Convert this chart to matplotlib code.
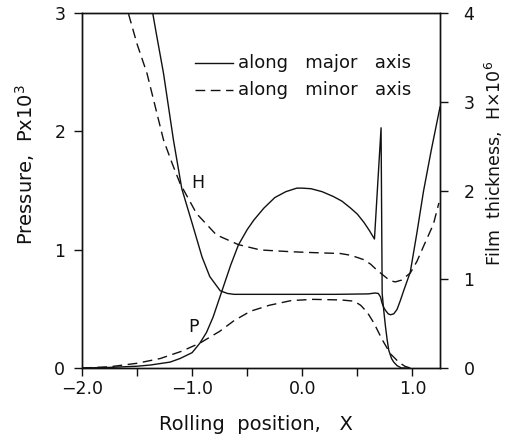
import matplotlib
matplotlib.use("Agg")
import matplotlib.pyplot as plt

# ---- data ----
# Pressure along major axis (P x 10^3)
p_major_x = [-2.0, -1.75, -1.5, -1.38, -1.2, -1.11, -1.0, -0.93, -0.87, -0.81, -0.73,
             -0.65, -0.58, -0.5, -0.44, -0.35, -0.25, -0.15, -0.05, 0.0, 0.08, 0.18,
             0.28, 0.36, 0.44, 0.5, 0.56, 0.61, 0.655, 0.715, 0.725, 0.74, 0.755,
             0.77, 0.785, 0.81, 0.83, 0.86, 0.9, 0.95]
p_major_y = [0.0, 0.005, 0.015, 0.025, 0.05, 0.08, 0.13, 0.21, 0.3, 0.43, 0.65,
             0.87, 1.04, 1.17, 1.25, 1.35, 1.44, 1.49, 1.52, 1.52, 1.515, 1.49,
             1.45, 1.41, 1.35, 1.30, 1.23, 1.16, 1.09, 2.03, 0.63, 0.48, 0.35,
             0.24, 0.15, 0.08, 0.05, 0.02, 0.0, 0.0]

# Pressure along minor axis
p_minor_x = [-2.0, -1.75, -1.5, -1.29, -1.1, -0.93, -0.75, -0.62, -0.47, -0.3, -0.1,
             0.1, 0.35, 0.47, 0.53, 0.59, 0.65, 0.725, 0.8, 0.875, 0.93, 0.98]
p_minor_y = [0.0, 0.01, 0.04, 0.08, 0.14, 0.21, 0.31, 0.40, 0.48, 0.53, 0.57,
             0.58, 0.575, 0.565, 0.53, 0.47, 0.38, 0.24, 0.12, 0.05, 0.015, 0.0]

# Film thickness along major axis (H x 10^6)
h_major_x = [-1.40, -1.33, -1.26, -1.17, -1.094, -1.0, -0.91, -0.84, -0.745, -0.68,
             -0.62, -0.3, 0.0, 0.3, 0.6, 0.66, 0.69, 0.71, 0.724, 0.74, 0.755, 0.78,
             0.8, 0.83, 0.86, 0.89, 0.92, 0.98, 1.04, 1.1, 1.17, 1.25]
h_major_y = [4.3, 3.8, 3.32, 2.57, 2.02, 1.63, 1.25, 1.03, 0.87, 0.84,
             0.83, 0.83, 0.83, 0.83, 0.835, 0.845, 0.84, 0.80, 0.73, 0.68, 0.65, 0.61,
             0.60, 0.61, 0.66, 0.76, 0.87, 1.08, 1.52, 1.99, 2.45, 2.94]

# Film thickness along minor axis
h_minor_x = [-1.62, -1.58, -1.50, -1.41, -1.33, -1.26, -1.18, -1.11, -0.96, -0.78,
             -0.58, -0.38, -0.1, 0.1, 0.345, 0.44, 0.56, 0.62, 0.68, 0.73, 0.77,
             0.81, 0.845, 0.9, 0.98, 1.04, 1.10, 1.19, 1.24]
h_minor_y = [4.3, 4.0, 3.65, 3.32, 2.92, 2.57, 2.30, 2.08, 1.74, 1.50,
             1.39, 1.33, 1.31, 1.30, 1.29, 1.27, 1.22, 1.17, 1.10, 1.05, 1.01,
             0.98, 0.97, 0.99, 1.07, 1.20, 1.37, 1.62, 1.86]

x_major_ticks = [-2.0, -1.0, 0.0, 1.0]
x_tick_labels = ["\u22122.0", "\u22121.0", "0.0", "1.0"]
x_minor_ticks = [-1.5, -0.5, 0.5]
p_ticks = [0, 1, 2, 3]
h_ticks = [0, 1, 2, 3, 4]

# ---- figure ----
W, H = 508, 441
fig = plt.figure(figsize=(W / 100, H / 100), dpi=100)
ax = fig.add_axes([82 / W, 1 - 368 / H, (440 - 82) / W, (368 - 13) / H])
ax2 = ax.twinx()

col = "#111111"
lw = 1.0
dash = (7, 4)

ax.plot(p_major_x, p_major_y, color=col, lw=lw)
ax.plot(p_minor_x, p_minor_y, color=col, lw=lw, dashes=dash)
ax2.plot(h_major_x, h_major_y, color=col, lw=lw)
ax2.plot(h_minor_x, h_minor_y, color=col, lw=lw, dashes=dash)

ax.set_xlim(-2.0, 1.25)
ax.set_ylim(0, 3)
ax2.set_ylim(0, 4)

ax.set_xticks(x_major_ticks)
ax.set_xticklabels(x_tick_labels)
ax.set_xticks(x_minor_ticks, minor=True)
ax.set_yticks(p_ticks)
ax2.set_yticks(h_ticks)

fs = 12.5
for a in (ax, ax2):
    for s in a.spines.values():
        s.set_linewidth(1.0)
        s.set_color(col)
ax.tick_params(axis="both", which="both", direction="out", length=6, width=1.0,
               labelsize=fs, colors=col)
ax.tick_params(axis="x", pad=3)
ax.tick_params(axis="y", pad=6)
ax2.tick_params(axis="y", direction="out", length=6, width=1.0, labelsize=fs,
                colors=col, pad=11)

fig.text(256 / W, 1 - 424 / H, "Rolling  position,   X", fontsize=14, color=col,
         ha="center", va="center")
fig.text(25 / W, 1 - 165 / H, "Pressure,  Px10$^3$", rotation=90, fontsize=14,
         color=col, ha="center", va="center")
fig.text(494 / W, 1 - 163 / H, "Film  thickness,  H\u00d710$^6$", rotation=90,
         fontsize=12.5, color=col, ha="center", va="center")

# curve labels
ax.text(-0.945, 1.56, "H", fontsize=12.5, color=col, ha="center", va="center")
ax.text(-0.99, 0.35, "P", fontsize=12.5, color=col, ha="center", va="center")

# legend (drawn manually in axes coords)
lx0 = (195 - 82) / (440 - 82)
lx1 = (233 - 82) / (440 - 82)
ltx = (238 - 82) / (440 - 82)
ly1 = (368 - 63) / (368 - 13)
ly2 = (368 - 90) / (368 - 13)
ax.plot([lx0, lx1], [ly1, ly1], transform=ax.transAxes, color=col, lw=lw)
ax.plot([lx0, lx1], [ly2, ly2], transform=ax.transAxes, color=col, lw=lw, dashes=dash)
ax.text(ltx, ly1, "along   major   axis", transform=ax.transAxes, fontsize=13,
        color=col, va="center", ha="left")
ax.text(ltx, ly2, "along   minor   axis", transform=ax.transAxes, fontsize=13,
        color=col, va="center", ha="left")

fig.savefig("out.png", dpi=100)
